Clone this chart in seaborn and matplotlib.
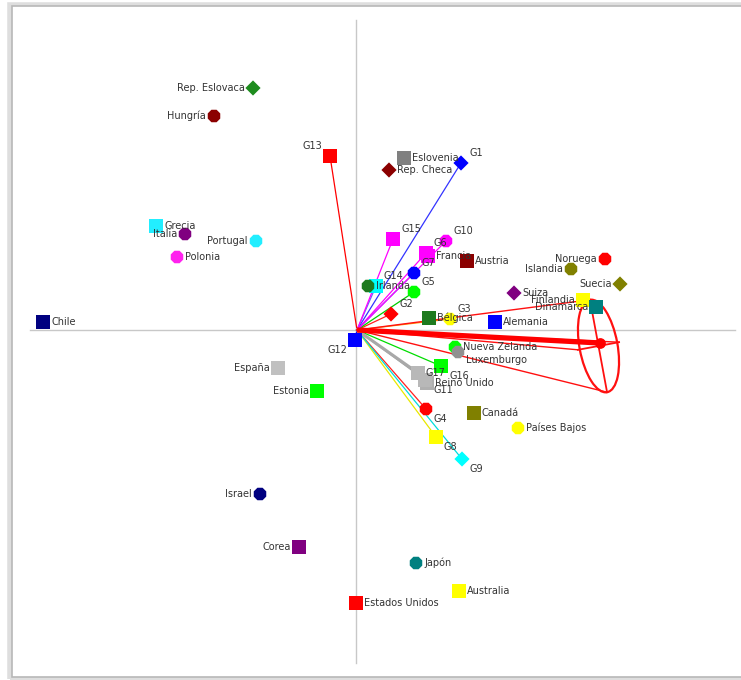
import numpy as np
import pandas as pd
import matplotlib
matplotlib.use("Agg")
import matplotlib.pyplot as plt
from matplotlib.patches import Ellipse, Rectangle
import seaborn as sns

# ---------------- data (biplot coordinates) ----------------
countries = ["Rep. Eslovaca", "Hungría", "Grecia", "Italia", "Portugal", "Polonia", "Chile",
             "España", "Estonia", "Israel", "Corea", "Estados Unidos", "Japón", "Australia",
             "Eslovenia", "Rep. Checa", "Francia", "Irlanda", "Bélgica", "Alemania", "Austria",
             "Suiza", "Islandia", "Noruega", "Suecia", "Finlandia", "Dinamarca",
             "Nueva Zelanda", "Luxemburgo", "Reino Unido", "Canadá", "Países Bajos"]
country_x = [-1.04, -1.43, -2.01, -1.72, -1.01, -1.80, -3.14,
             -0.79, -0.40, -0.97, -0.58, -0.01, 0.59, 1.02,
             0.47, 0.32, 0.71, 0.11, 0.72, 1.38, 1.10,
             1.57, 2.14, 2.48, 2.63, 2.26, 2.39,
             0.98, 1.01, 0.70, 1.17, 1.61]
country_y = [2.42, 2.14, 1.04, 0.96, 0.89, 0.73, 0.08,
             -0.38, -0.61, -1.64, -2.17, -2.73, -2.33, -2.61,
             1.72, 1.60, 0.74, 0.44, 0.12, 0.08, 0.69,
             0.37, 0.61, 0.71, 0.46, 0.30, 0.23,
             -0.17, -0.22, -0.53, -0.83, -0.98]

variables = ["G1", "G2", "G3", "G4", "G5", "G6", "G7", "G8", "G9", "G10",
             "G11", "G12", "G13", "G14", "G15", "G16", "G17"]
var_x = [1.04, 0.34, 0.93, 0.69, 0.57, 0.69, 0.57, 0.79, 1.05, 0.89,
         0.68, -0.02, -0.27, 0.19, 0.36, 0.84, 0.61]
var_y = [1.67, 0.16, 0.11, -0.79, 0.38, 0.77, 0.57, -1.07, -1.29, 0.89,
         -0.50, -0.10, 1.74, 0.44, 0.91, -0.36, -0.43]

# confidence cone: tip and ellipse (center, width, height, angle)
cone_tip = (2.43, -0.13)
cone_center = (2.415, -0.16)
cone_width, cone_height, cone_angle = 0.38, 0.94, 10.5

# ---------------- styles ----------------
country_style = {
    "Rep. Eslovaca": ("#1e8c1e", "D", "l"), "Hungría": ("#8b0000", "8", "l"),
    "Grecia": ("#22eeff", "s", "r"), "Italia": ("#800080", "8", "l"),
    "Portugal": ("#22eeff", "8", "l"), "Polonia": ("#ff22ee", "8", "r"),
    "Chile": ("#000080", "s", "r"), "España": ("#c0c0c0", "s", "l"),
    "Estonia": ("#00ff00", "s", "l"), "Israel": ("#000080", "8", "l"),
    "Corea": ("#800080", "s", "l"), "Estados Unidos": ("#ff0000", "s", "r"),
    "Japón": ("#008080", "8", "r"), "Australia": ("#ffff00", "s", "r"),
    "Eslovenia": ("#808080", "s", "r"), "Rep. Checa": ("#8b0000", "D", "r"),
    "Francia": ("#ff00ff", "s", "r"), "Irlanda": ("#1e7a1e", "8", "r"),
    "Bélgica": ("#1e7a1e", "s", "r"), "Alemania": ("#0000ff", "s", "r"),
    "Austria": ("#8b0000", "s", "r"), "Suiza": ("#800080", "D", "r"),
    "Islandia": ("#808000", "8", "l"), "Noruega": ("#ff0000", "8", "l"),
    "Suecia": ("#808000", "D", "l"), "Finlandia": ("#ffff00", "s", "l"),
    "Dinamarca": ("#008080", "s", "l"), "Nueva Zelanda": ("#00ff00", "8", "r"),
    "Luxemburgo": ("#909090", "8", "rd"), "Reino Unido": ("#b0b0b0", "s", "r"),
    "Canadá": ("#808000", "s", "r"), "Países Bajos": ("#ffff00", "8", "r"),
}
var_style = {
    "G1": ("#0000ff", "D", "#3333ff", "ur"), "G2": ("#ff0000", "D", "#ff2020", "ur"),
    "G3": ("#ffff00", "8", "#ff9900", "ur"), "G4": ("#ff0000", "8", "#ff2020", "dr"),
    "G5": ("#00ff00", "8", "#00cc00", "ur"), "G6": ("#ff00ff", "s", "#ff00ff", "ur"),
    "G7": ("#0000ff", "8", "#4444ff", "ur"), "G8": ("#ffff00", "s", "#e8e800", "dr"),
    "G9": ("#00ffff", "D", "#00dddd", "dr"), "G10": ("#ff00ff", "8", "#ff00ff", "ur"),
    "G11": ("#b8b8b8", "s", "#a0a0a0", "dr"), "G12": ("#0000ff", "s", "#0000ff", "dl"),
    "G13": ("#ff0000", "s", "#ff0000", "ul"), "G14": ("#00ffff", "s", "#6666ff", "ur"),
    "G15": ("#ff00ff", "s", "#ff00ff", "ur"), "G16": ("#00ff00", "s", "#00dd00", "dr"),
    "G17": ("#b8b8b8", "s", "#a8a8a8", "r"),
}
offsets = {"r": (8, 0, "left", "center"), "l": (-8, 0, "right", "center"),
           "rd": (8, -8, "left", "center"),
           "ur": (8, 5, "left", "bottom"), "ul": (-8, 5, "right", "bottom"),
           "dr": (8, -5, "left", "top"), "dl": (-8, -5, "right", "top")}

# ---------------- figure ----------------
fig = plt.figure(figsize=(7.41, 6.8), dpi=100)
ax = fig.add_axes([0, 0, 1, 1])
ax.set_xlim(-3.57, 3.84)
ax.set_ylim(-3.50, 3.30)
ax.axis("off")

# frame with shadow (behind the axes)
fig.patches.append(Rectangle((10 / 741, 1 - 679 / 680), 740 / 741, 674 / 680,
                             transform=fig.transFigure, facecolor="none",
                             edgecolor="#dedede", lw=4, zorder=-10))
fig.patches.append(Rectangle((12 / 741, 1 - 677 / 680), 740 / 741, 671 / 680,
                             transform=fig.transFigure, facecolor="white",
                             edgecolor="#b8b8b8", lw=1.2, zorder=-9))

# axes lines
ax.plot([-3.27, 3.78], [0, 0], color="#c8c8c8", lw=1, zorder=1)
ax.plot([-0.01, -0.01], [3.10, -3.33], color="#c8c8c8", lw=1, zorder=1)

# vectors
for name, vx, vy in zip(variables, var_x, var_y):
    lc = var_style[name][2]
    lw = 2.2 if name == "G17" else 0.9
    ax.plot([0, vx], [0, vy], color=lc, lw=lw, zorder=2)

# cone
ang = np.deg2rad(cone_angle)
u_major = np.array([-np.sin(ang), np.cos(ang)])
u_minor = np.array([np.cos(ang), np.sin(ang)])
c = np.array(cone_center)
ends = [c + u_major * cone_height / 2, c - u_major * cone_height / 2,
        c - u_minor * cone_width / 2 * 1.1, c + u_minor * cone_width / 2 * 1.1]
for e in ends:
    ax.plot([0, e[0]], [0, e[1]], color="#ff1010", lw=1.0, zorder=3)
ax.plot([ends[0][0], ends[1][0]], [ends[0][1], ends[1][1]], color="#ff1010", lw=1.3, zorder=3)
ax.plot([ends[2][0], ends[3][0]], [ends[2][1], ends[3][1]], color="#ff1010", lw=1.3, zorder=3)
ax.add_patch(Ellipse(cone_center, cone_width, cone_height, angle=cone_angle,
                     facecolor="none", edgecolor="#ff1010", lw=1.6, zorder=3))
ax.plot([0, cone_tip[0]], [0, cone_tip[1]], color="#ff0000", lw=3.8, zorder=3,
        solid_capstyle="butt")
ax.scatter([cone_tip[0]], [cone_tip[1]], s=45, color="#ff0000", zorder=3)

# points via seaborn
rows = []
for n, x, y in zip(countries, country_x, country_y):
    rows.append(dict(name=n, x=x, y=y, color=country_style[n][0], marker=country_style[n][1]))
for n, x, y in zip(variables, var_x, var_y):
    rows.append(dict(name=n, x=x, y=y, color=var_style[n][0], marker=var_style[n][1]))
df = pd.DataFrame(rows)
palette = dict(zip(df["name"], df["color"]))
sizes = {"s": 90, "8": 95, "D": 60}
for mk, sz in sizes.items():
    sub = df[df["marker"] == mk]
    sns.scatterplot(data=sub, x="x", y="y", hue="name", palette=palette, marker=mk,
                    s=sz, linewidth=0, legend=False, ax=ax, zorder=4)
ax.set_xlabel("")
ax.set_ylabel("")
ax.axis("off")

# labels
tc = "#333333"
for n, x, y in zip(countries, country_x, country_y):
    dx, dy, ha, va = offsets[country_style[n][2]]
    ax.annotate(n, (x, y), xytext=(dx, dy), textcoords="offset pixels",
                ha=ha, va=va, fontsize=7, color=tc, zorder=5)
for n, x, y in zip(variables, var_x, var_y):
    dx, dy, ha, va = offsets[var_style[n][3]]
    ax.annotate(n, (x, y), xytext=(dx, dy), textcoords="offset pixels",
                ha=ha, va=va, fontsize=7, color=tc, zorder=5)

fig.savefig("out.png", dpi=100, facecolor="white")
